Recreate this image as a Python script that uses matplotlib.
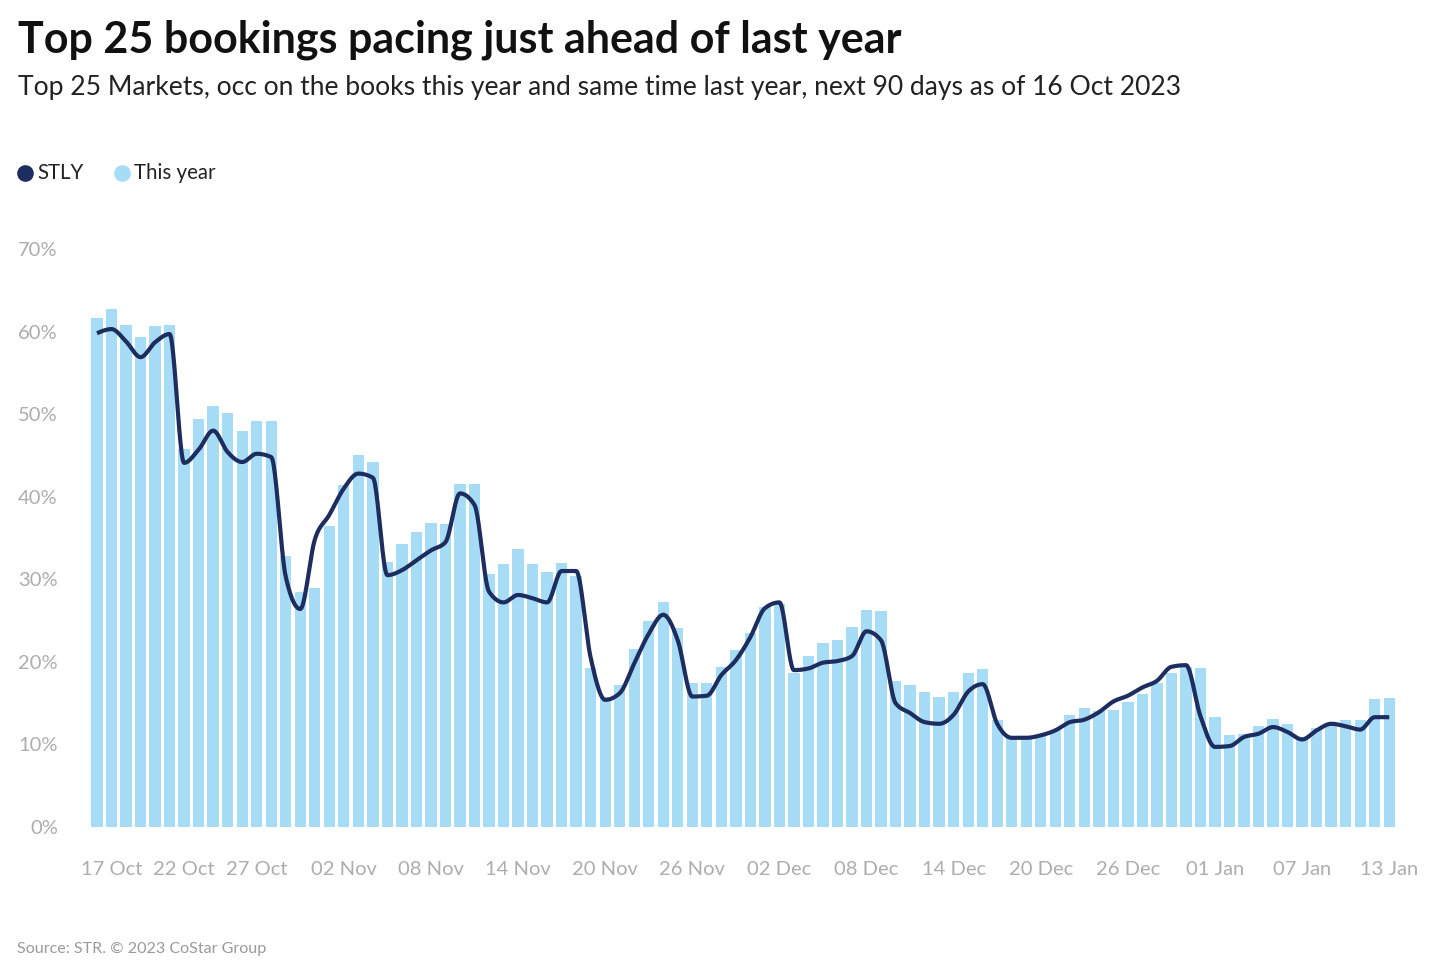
import numpy as np
import pandas as pd
import matplotlib
matplotlib.use("Agg")
import matplotlib.pyplot as plt
from matplotlib.lines import Line2D

# ---------------- data ----------------
dates = pd.date_range("2023-10-16", periods=90, freq="D")

this_year = [61.7, 62.7, 60.8, 59.4, 60.7, 60.8, 45.8, 49.4, 51.0, 50.1, 47.9, 49.2, 49.2,
             32.8, 28.4, 29.0, 36.4, 41.4, 45.0, 44.2, 32.1, 34.3, 35.7, 36.8, 36.7, 41.5, 41.6, 30.6, 31.9, 33.7,
             31.9, 30.9, 32.0, 30.4, 19.3, 15.8, 17.2, 21.5, 24.9, 27.3, 24.1, 17.4, 17.4, 19.4, 21.4,
             23.5, 26.7, 27.0, 18.7, 20.7, 22.3, 22.6, 24.2, 26.3, 26.2, 17.7, 17.2, 16.3, 15.8,
             16.4, 18.7, 19.1, 13.0, 10.9, 10.9, 11.1, 11.7, 13.6, 14.4, 14.0, 14.2, 15.1, 16.1, 17.4,
             18.7, 19.4, 19.2, 13.3, 11.1, 11.3, 12.2, 13.1, 12.5, 10.9, 12.0, 12.5, 13.0, 13.0, 15.5, 15.6]

stly = [59.8, 60.3, 58.8, 56.9, 58.7, 59.7, 44.1, 45.7, 48.0, 45.4, 44.2, 45.2, 44.8,
        30.3, 26.4, 34.8, 37.8, 41.0, 42.8, 42.3, 30.5, 31.1, 32.3, 33.5, 34.5, 40.4, 39.0, 28.5, 27.2, 28.1,
        27.7, 27.2, 31.0, 31.0, 20.5, 15.4, 16.2, 19.8, 23.4, 25.7, 22.6, 15.8, 15.9, 18.4, 20.2,
        23.0, 26.5, 27.2, 19.0, 19.2, 19.9, 20.1, 20.7, 23.7, 22.6, 15.0, 13.8, 12.7, 12.5,
        13.6, 16.4, 17.3, 12.5, 10.8, 10.8, 11.1, 11.7, 12.7, 13.0, 13.9, 15.2, 15.9, 16.9, 17.7,
        19.4, 19.6, 13.4, 9.7, 9.8, 10.9, 11.3, 12.1, 11.5, 10.6, 11.7, 12.5, 12.2, 11.8, 13.3, 13.3]

tick_labels = ["17 Oct", "22 Oct", "27 Oct", "02 Nov", "08 Nov", "14 Nov", "20 Nov", "26 Nov",
               "02 Dec", "08 Dec", "14 Dec", "20 Dec", "26 Dec", "01 Jan", "07 Jan", "13 Jan"]
y_ticks = [0, 10, 20, 30, 40, 50, 60, 70]

# ---------------- style ----------------
FONT = "Lato"
plt.rcParams["font.family"] = [FONT, "DejaVu Sans"]
BAR_C = "#a6dcf5"
LINE_C = "#1d2d5f"
GREY = "#adadad"

W, H = 1436, 972
fig = plt.figure(figsize=(W / 100, H / 100), dpi=100)
fig.patch.set_facecolor("white")

left_px, right_px, top_px, bot_px = 89.74, 1396.5, 249, 827
ax = fig.add_axes([left_px / W, 1 - bot_px / H, (right_px - left_px) / W, (bot_px - top_px) / H])

x = np.arange(len(this_year))
ax.bar(x, this_year, width=0.78, color=BAR_C, zorder=1)


def monotone_x(xs, ys, n=24):
    xs = np.asarray(xs, float)
    ys = np.asarray(ys, float)
    h = np.diff(xs)
    s = np.diff(ys) / h
    t = np.zeros_like(ys)
    for i in range(1, len(ys) - 1):
        s0, s1 = s[i - 1], s[i]
        h0, h1 = h[i - 1], h[i]
        p = (s0 * h1 + s1 * h0) / (h0 + h1)
        t[i] = (np.sign(s0) + np.sign(s1)) * min(abs(s0), abs(s1), 0.5 * abs(p))
    t[0] = (3 * s[0] - t[1]) / 2
    t[-1] = (3 * s[-1] - t[-2]) / 2
    out_x, out_y = [], []
    for i in range(len(xs) - 1):
        u = np.linspace(0, 1, n, endpoint=False)
        dx = h[i]
        h00 = 2 * u**3 - 3 * u**2 + 1
        h10 = u**3 - 2 * u**2 + u
        h01 = -2 * u**3 + 3 * u**2
        h11 = u**3 - u**2
        out_x.append(xs[i] + u * dx)
        out_y.append(h00 * ys[i] + h10 * dx * t[i] + h01 * ys[i + 1] + h11 * dx * t[i + 1])
    out_x.append([xs[-1]])
    out_y.append([ys[-1]])
    return np.concatenate(out_x), np.concatenate(out_y)


cx, cy = monotone_x(x, stly)
ax.plot(cx, cy, color=LINE_C, lw=3.0, solid_capstyle="butt", solid_joinstyle="round", zorder=3)

ax.set_xlim(-0.5, len(this_year) - 0.5)
ax.set_ylim(0, 70)

tick_pos = [list(dates.strftime("%d %b")).index(lbl) for lbl in tick_labels]
ax.set_xticks(tick_pos)
ax.set_xticklabels(tick_labels)
ax.set_yticks(y_ticks)
ax.set_yticklabels([f"{v}%" for v in y_ticks])
ax.tick_params(axis="x", length=0, pad=24.5, labelsize=14.5, labelcolor=GREY)
ax.tick_params(axis="y", length=0, pad=23, labelsize=14.5, labelcolor=GREY)
for sp in ax.spines.values():
    sp.set_visible(False)

# ---------------- texts ----------------
fig.text(18 / W, 1 - 40 / H, "Top 25 bookings pacing just ahead of last year",
         fontsize=31, fontweight="bold", color="#111111", va="center", ha="left")
fig.text(18 / W, 1 - 88 / H,
         "Top 25 Markets, occ on the books this year and same time last year, next 90 days as of 16 Oct 2023",
         fontsize=19.1, color="#222222", va="center", ha="left")

# legend
for px, lbl, col in [(25, "STLY", LINE_C), (122, "This year", BAR_C)]:
    fig.add_artist(Line2D([px / W], [1 - 173 / H], marker="o", markersize=12, color=col,
                          markeredgewidth=0, linestyle="none", transform=fig.transFigure))
    fig.text((px + 12) / W, 1 - 173 / H, lbl, fontsize=14.8, color="#222222", va="center", ha="left")

fig.text(17 / W, 1 - 949 / H, "Source: STR. © 2023 CoStar Group", fontsize=11.6, color="#9a9a9a",
         va="center", ha="left")

fig.savefig("out.png", dpi=100, facecolor="white")
